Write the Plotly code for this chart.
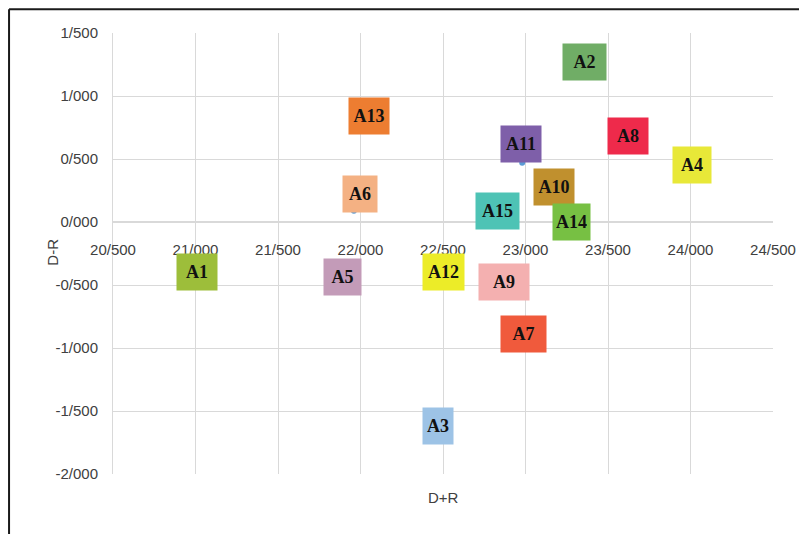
import plotly.graph_objects as go

# ---- data ----
labels = ["A1", "A2", "A3", "A4", "A5", "A6", "A7", "A8", "A9", "A10",
          "A11", "A12", "A13", "A14", "A15"]
d_plus_r = [21.01, 23.36, 22.47, 24.01, 21.89, 21.96, 22.99, 23.62, 22.87, 23.17,
            22.98, 22.50, 22.05, 23.28, 22.83]
d_minus_r = [-0.40, 1.27, -1.62, 0.45, -0.44, 0.09, -0.89, 0.68, -0.48, 0.28,
             0.47, -0.40, 0.84, 0.00, 0.09]

x_tickvals = [20.5, 21.0, 21.5, 22.0, 22.5, 23.0, 23.5, 24.0, 24.5]
x_ticktext = ["20/500", "21/000", "21/500", "22/000", "22/500", "23/000", "23/500", "24/000", "24/500"]
y_tickvals = [1.5, 1.0, 0.5, 0.0, -0.5, -1.0, -1.5, -2.0]
y_ticktext = ["1/500", "1/000", "0/500", "0/000", "-0/500", "-1/000", "-1/500", "-2/000"]

# ---- styles ----
box_colors = ["#9DBE3A", "#70AD66", "#9DC3E6", "#E8E838", "#C39BB8", "#F4B183",
              "#F05A3C", "#EE2A4B", "#F4B0B0", "#C0902E", "#7E5FA9", "#ECEC28",
              "#ED7D31", "#77C043", "#4EC3B5"]
box_widths = [34, 37, 24, 32, 31, 28, 39, 34, 44, 34, 34, 35, 34, 31, 37]
label_shift = {"A6": (6, 17), "A11": (-1, 19)}

fig = go.Figure()
fig.add_trace(go.Scatter(
    x=d_plus_r, y=d_minus_r, mode="markers",
    marker=dict(size=6, color="#5B9BD5"),
    hoverinfo="text", text=labels, showlegend=False,
))

for lab, xv, yv, col, w in zip(labels, d_plus_r, d_minus_r, box_colors, box_widths):
    xs, ys = label_shift.get(lab, (0, 0))
    fig.add_annotation(
        x=xv, y=yv, xref="x", yref="y", text="<b>" + lab + "</b>",
        showarrow=False, xshift=xs, yshift=ys,
        font=dict(family="Liberation Serif, Times New Roman, serif", size=18, color="#111111"),
        bgcolor=col, width=w, height=30, borderpad=3, align="center", valign="middle",
    )

tick_font = dict(family="Liberation Sans Narrow, Arial Narrow, Liberation Sans, sans-serif",
                 size=15, color="#404040")

fig.update_xaxes(
    range=[20.5, 24.5], tickvals=x_tickvals, ticktext=x_ticktext,
    showgrid=True, gridcolor="#D9D9D9", gridwidth=1, zeroline=False,
    showline=True, linecolor="#D9D9D9", linewidth=1.5,
    anchor="free", position=2 / 3.5, ticks="", ticklabelstandoff=14,
    tickfont=tick_font, fixedrange=True,
)
fig.update_yaxes(
    range=[-2.0, 1.5], tickvals=y_tickvals, ticktext=y_ticktext,
    showgrid=True, gridcolor="#D9D9D9", gridwidth=1, zeroline=False,
    showline=True, linecolor="#D9D9D9", linewidth=1,
    ticks="", ticklabelstandoff=11, tickfont=tick_font, fixedrange=True,
)

# axis titles
fig.add_annotation(x=0.5, y=-0.03, xref="paper", yref="paper", text="D+R",
                   showarrow=False, font=tick_font, yanchor="top")
fig.add_annotation(x=-0.1076, y=0.503, xref="paper", yref="paper", text="D-R",
                   showarrow=False, font=tick_font, textangle=-90)

# outer frame (top and left edges)
fig.add_shape(type="line", xref="paper", yref="paper", x0=-0.1575, x1=1.06, y0=1.054, y1=1.054,
              line=dict(color="#1a1a1a", width=2))
fig.add_shape(type="line", xref="paper", yref="paper", x0=-0.1575, x1=-0.1575, y0=1.054, y1=-0.2,
              line=dict(color="#1a1a1a", width=2))

fig.update_layout(
    width=799, height=526,
    margin=dict(l=105, r=34, t=25, b=60),
    plot_bgcolor="white", paper_bgcolor="white",
)

fig.write_html("out.html")
